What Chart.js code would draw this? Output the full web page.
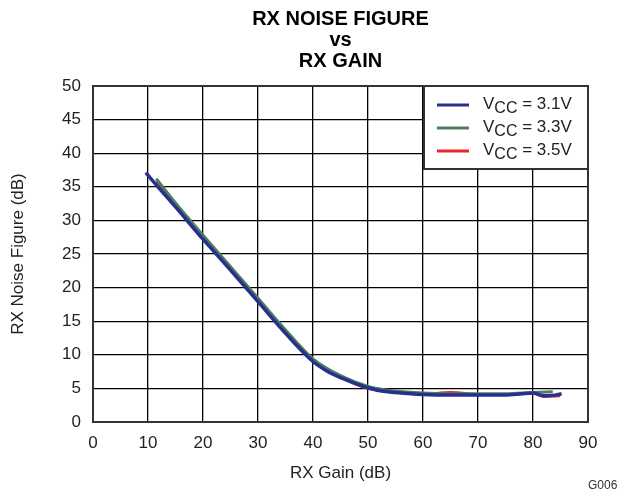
<!DOCTYPE html>
<html lang="en">
<head>
  <meta charset="UTF-8">
  <title>RX Noise Figure vs RX Gain</title>
  <script src="https://cdn.jsdelivr.net/npm/chart.js"></script>
  <style>
    body {
      margin: 0;
      background-color: white;
    }
    #nfChart {
      display: block;
    }
  </style>
</head>
<body>

<canvas id="nfChart" width="629" height="490"></canvas>

<script>
  // supply voltages shown in the legend
  const vccLabels = ["3.1V", "3.3V", "3.5V"];

  // Vcc = 3.1V
  const gain31 = [9.6, 12, 15, 20, 25, 30, 35, 40, 42.5, 45, 47.5, 50, 52.5, 55, 60, 65, 70, 75, 78, 80, 82, 84, 85.2];
  const nf31   = [37.1, 34.8, 32.0, 27.2, 22.6, 17.9, 13.2, 9.0, 7.6, 6.6, 5.8, 5.1, 4.6, 4.4, 4.1, 4.0, 4.0, 4.0, 4.2, 4.3, 3.9, 4.0, 4.2];

  // Vcc = 3.3V
  const gain33 = [11.5, 15, 20, 25, 30, 35, 40, 45, 50, 55, 60, 65, 70, 75, 80, 83.6];
  const nf33   = [36.2, 32.6, 27.8, 23.1, 18.4, 13.7, 9.4, 6.9, 5.3, 4.6, 4.3, 4.2, 4.2, 4.2, 4.4, 4.5];

  // Vcc = 3.5V
  const gain35 = [11.6, 15, 20, 25, 30, 35, 40, 45, 50, 55, 60, 65, 70, 75, 80, 82, 84.9];
  const nf35   = [35.8, 32.4, 27.6, 23.0, 18.3, 13.5, 9.2, 6.7, 5.0, 4.5, 4.1, 4.4, 4.1, 4.1, 4.3, 3.8, 3.9];

  const titleLines = ["RX NOISE FIGURE", "vs", "RX GAIN"];
  const xTitle = "RX Gain (dB)";
  const yTitle = "RX Noise Figure (dB)";

  const FONT = "'Liberation Sans', Arial, sans-serif";

  function toPoints(xs, ys) {
    return xs.map((x, i) => ({ x: x, y: ys[i] }));
  }

  // titles, frame, legend and figure tag
  const decorations = {
    id: 'decorations',
    afterDraw(chart) {
      const ctx = chart.ctx;
      const area = chart.chartArea;
      ctx.save();

      // plot frame
      ctx.strokeStyle = '#333';
      ctx.lineWidth = 2;
      ctx.strokeRect(area.left, area.top, area.right - area.left, area.bottom - area.top);

      // title
      const cx = (area.left + area.right) / 2;
      ctx.fillStyle = '#000';
      ctx.textAlign = 'center';
      ctx.textBaseline = 'alphabetic';
      ctx.font = 'bold 20px ' + FONT;
      ctx.fillText(titleLines[0], cx, 25);
      ctx.fillText(titleLines[1], cx, 46);
      ctx.fillText(titleLines[2], cx, 67);

      // axis titles
      ctx.fillStyle = '#222';
      ctx.font = '17px ' + FONT;
      ctx.textBaseline = 'middle';
      ctx.fillText(xTitle, cx, 473);
      ctx.save();
      ctx.translate(18, (area.top + area.bottom) / 2);
      ctx.rotate(-Math.PI / 2);
      ctx.fillText(yTitle, 0, 0);
      ctx.restore();

      // figure tag
      ctx.font = '12px ' + FONT;
      ctx.textAlign = 'left';
      ctx.textBaseline = 'alphabetic';
      ctx.fillStyle = '#333';
      ctx.fillText('G006', 588, 489);

      // legend box
      const lx = 424, ly = area.top, lw = area.right - 424, lh = 83;
      ctx.fillStyle = '#fff';
      ctx.fillRect(lx, ly, lw, lh);
      ctx.strokeStyle = '#333';
      ctx.lineWidth = 2;
      ctx.strokeRect(lx, ly, lw, lh);

      chart.data.datasets.forEach((ds, i) => {
        const y = 105 + i * 23;
        ctx.strokeStyle = ds.borderColor;
        ctx.lineWidth = 3;
        ctx.beginPath();
        ctx.moveTo(437, y);
        ctx.lineTo(469, y);
        ctx.stroke();

        ctx.fillStyle = '#222';
        ctx.textAlign = 'left';
        ctx.textBaseline = 'alphabetic';
        let tx = 483;
        const base = y + 4;
        ctx.font = '17px ' + FONT;
        ctx.fillText('V', tx, base);
        tx += ctx.measureText('V').width;
        ctx.font = '16px ' + FONT;
        ctx.fillText('CC', tx, base + 4);
        tx += ctx.measureText('CC').width;
        ctx.font = '17px ' + FONT;
        ctx.fillText(' = ' + vccLabels[i], tx, base);
      });

      ctx.restore();
    }
  };

  const ctx = document.getElementById('nfChart').getContext('2d');
  new Chart(ctx, {
    type: 'line',
    data: {
      datasets: [
        {
          label: 'VCC = ' + vccLabels[0],
          data: toPoints(gain31, nf31),
          borderColor: '#27308f',
          borderWidth: 3.5
        },
        {
          label: 'VCC = ' + vccLabels[1],
          data: toPoints(gain33, nf33),
          borderColor: '#4b7f5c',
          borderWidth: 3
        },
        {
          label: 'VCC = ' + vccLabels[2],
          data: toPoints(gain35, nf35),
          borderColor: '#e8242c',
          borderWidth: 3
        }
      ]
    },
    options: {
      responsive: false,
      animation: false,
      layout: { padding: { left: 0, top: 86, right: 41, bottom: 0 } },
      elements: {
        point: { radius: 0 },
        line: { cubicInterpolationMode: 'monotone' }
      },
      plugins: {
        legend: { display: false },
        tooltip: { enabled: false }
      },
      scales: {
        x: {
          type: 'linear',
          min: 0,
          max: 90,
          afterFit: s => { s.height = 68; },
          ticks: { stepSize: 10, padding: 11, color: '#222', font: { family: FONT, size: 17 } },
          grid: { color: '#000', lineWidth: 1.3, drawTicks: false },
          border: { display: false }
        },
        y: {
          min: 0,
          max: 50,
          afterFit: s => { s.width = 93; },
          ticks: { stepSize: 5, padding: 12, color: '#222', font: { family: FONT, size: 17 } },
          grid: { color: '#000', lineWidth: 1.3, drawTicks: false },
          border: { display: false }
        }
      }
    },
    plugins: [decorations]
  });
</script>

</body>
</html>
